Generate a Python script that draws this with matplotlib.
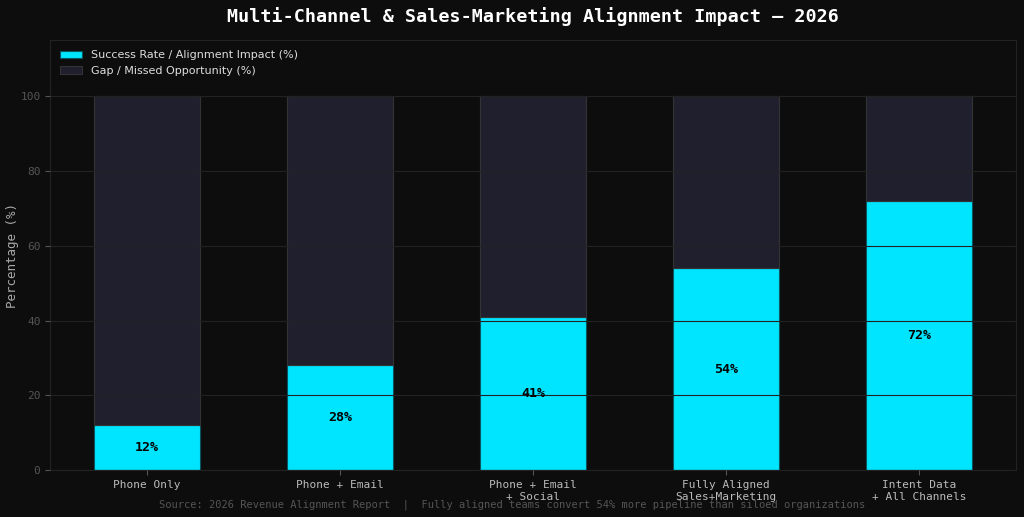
import matplotlib.pyplot as plt

categories = ["Phone Only", "Phone + Email", "Phone + Email\n+ Social",
              "Fully Aligned\nSales+Marketing", "Intent Data\n+ All Channels"]
success = [12, 28, 41, 54, 72]
gap = [100 - v for v in success]

bg = "#0d0d0d"
cyan = "#00e5ff"
gap_color = "#1f1f2e"
mono = "DejaVu Sans Mono"

fig, ax = plt.subplots(figsize=(10.24, 5.17), dpi=100)
fig.patch.set_facecolor(bg)
ax.set_facecolor(bg)

x = range(len(categories))
ax.bar(x, success, width=0.55, color=cyan, edgecolor="#0b5560", linewidth=0.8,
       label="Success Rate / Alignment Impact (%)", zorder=1)
ax.bar(x, gap, width=0.55, bottom=success, color=gap_color, edgecolor="#333333",
       linewidth=0.8, label="Gap / Missed Opportunity (%)", zorder=1)

# value labels in the middle of each cyan bar
for i, v in enumerate(success):
    ax.text(i, v / 2, f"{v}%", ha="center", va="center", color="black",
            fontsize=9.5, fontweight="bold", family=mono, zorder=3)

ax.set_xlim(-0.5, 4.5)
ax.set_ylim(0, 115)
ax.set_yticks([0, 20, 40, 60, 80, 100])
ax.set_xticks(list(x))
ax.set_xticklabels(categories, family=mono, fontsize=8, color="#bbbbbb")
for lbl in ax.get_yticklabels():
    lbl.set_family(mono)
ax.tick_params(axis="y", colors="#555555", labelsize=8)
ax.tick_params(axis="x", colors="#555555", pad=4)
for lbl in ax.get_xticklabels():
    lbl.set_color("#bbbbbb")

ax.grid(True, axis="y", color="#222222", linewidth=0.8, zorder=2)
ax.set_axisbelow(False)

for s in ax.spines.values():
    s.set_color("#222222")

ax.set_ylabel("Percentage (%)", color="#aaaaaa", fontsize=9, family=mono)
ax.yaxis.set_label_coords(-0.032, 0.5)
ax.set_title("Multi-Channel & Sales-Marketing Alignment Impact — 2026",
             color="white", fontsize=13.2, fontweight="bold", family=mono, pad=13)

leg = ax.legend(loc="upper left", facecolor=bg, edgecolor=bg, fontsize=8)
for t in leg.get_texts():
    t.set_color("#dddddd")

fig.text(0.5, 0.018, "Source: 2026 Revenue Alignment Report  |  Fully aligned teams convert 54% more pipeline than siloed organizations",
         ha="center", color="#555555", fontsize=7.5, family=mono)

plt.subplots_adjust(left=0.049, right=0.992, top=0.922, bottom=0.091)
plt.savefig("out.png", facecolor=bg)
